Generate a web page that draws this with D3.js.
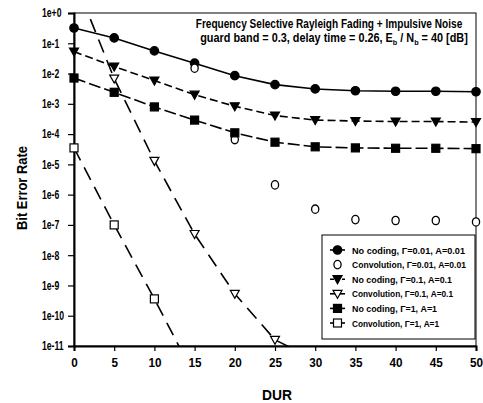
<!DOCTYPE html>
<html>
<head>
<meta charset="utf-8">
<script src="https://cdn.jsdelivr.net/npm/d3@7"></script>
<style>
  body { margin: 0; background: #fff; }
  svg { font-family: "Liberation Sans", Arial, sans-serif; }
</style>
</head>
<body>
<svg id="chart" width="483" height="403"></svg>
<script>
// values
const dur = [0, 5, 10, 15, 20, 25, 30, 35, 40, 45, 50];
const noCoding001 = [0.32, 0.15, 0.056, 0.022, 0.0085, 0.0043, 0.0031, 0.0027, 0.0026, 0.0026, 0.0025];
const conv001 = [null, null, null, 0.015, 6.6e-5, 2.1e-6, 3.3e-7, 1.5e-7, 1.4e-7, 1.4e-7, 1.25e-7];
const noCoding01 = [0.053, 0.017, 0.0059, 0.002, 8.3e-4, 4.1e-4, 2.9e-4, 2.7e-4, 2.6e-4, 2.6e-4, 2.5e-4];
const conv01 = [14, 0.0068, 1.3e-5, 5e-8, 5.3e-10, 1.6e-11, 3.5e-12, null, null, null, null];
const noCoding1 = [0.0071, 0.0024, 7.9e-4, 2.9e-4, 1.1e-4, 5.4e-5, 3.8e-5, 3.5e-5, 3.4e-5, 3.4e-5, 3.3e-5];
const conv1 = [3.5e-5, 1e-7, 3.6e-10, 1e-12, null, null, null, null, null, null, null];

const xTicks = [0, 5, 10, 15, 20, 25, 30, 35, 40, 45, 50];
const yTicks = [1, 1e-1, 1e-2, 1e-3, 1e-4, 1e-5, 1e-6, 1e-7, 1e-8, 1e-9, 1e-10, 1e-11];
const yTickLabels = ["1e+0", "1e-1", "1e-2", "1e-3", "1e-4", "1e-5", "1e-6", "1e-7", "1e-8", "1e-9", "1e-10", "1e-11"];

const series = [
  { name: "No coding, \u0393=0.01, A=0.01", values: noCoding001, marker: "circle", filled: true, dash: null, line: true, w: 113 },
  { name: "Convolution, \u0393=0.01, A=0.01", values: conv001, marker: "circle", filled: false, dash: null, line: false, w: 114 },
  { name: "No coding, \u0393=0.1, A=0.1", values: noCoding01, marker: "triangle", filled: true, dash: "8,4", line: true, w: 100 },
  { name: "Convolution, \u0393=0.1, A=0.1", values: conv01, marker: "triangle", filled: false, dash: "14,8", line: true, w: 101 },
  { name: "No coding, \u0393=1, A=1", values: noCoding1, marker: "square", filled: true, dash: "12,4", line: true, w: 85 },
  { name: "Convolution, \u0393=1, A=1", values: conv1, marker: "square", filled: false, dash: "14,8", line: true, w: 87 }
];

const svg = d3.select("#chart");
const pLeft = 74, pRight = 476, pTop = 13, pBottom = 346;

const x = d3.scaleLinear().domain([0, 50]).range([pLeft, pRight]);
const y = d3.scaleLog().domain([1e-11, 1]).range([pBottom, pTop]);

// the original uses a narrow face; squeeze the installed one to match
function squeeze(sel, k) {
  sel.each(function () {
    const n = this.getComputedTextLength();
    d3.select(this).attr("textLength", n * k).attr("lengthAdjust", "spacingAndGlyphs");
  });
}
function fitWidth(sel, w) {
  sel.attr("textLength", w).attr("lengthAdjust", "spacingAndGlyphs");
}

svg.append("defs").append("clipPath").attr("id", "plotClip")
  .append("rect")
  .attr("x", pLeft).attr("y", pTop)
  .attr("width", pRight - pLeft).attr("height", pBottom - pTop);

// frame
svg.append("rect")
  .attr("x", pLeft).attr("y", pTop)
  .attr("width", pRight - pLeft).attr("height", pBottom - pTop)
  .attr("fill", "none").attr("stroke", "#000").attr("stroke-width", 1);

// axes
const xAxis = svg.append("g")
  .attr("transform", `translate(0,${pBottom})`)
  .call(d3.axisBottom(x).tickValues(xTicks).tickSize(5).tickPadding(7).tickFormat(d3.format("d")));
const yAxis = svg.append("g")
  .attr("transform", `translate(${pLeft},0)`)
  .call(d3.axisLeft(y).tickValues(yTicks).tickSize(6).tickFormat((d, i) => yTickLabels[i]));

[xAxis, yAxis].forEach(a => {
  a.select(".domain").attr("stroke-width", 2);
  a.selectAll(".tick line").attr("stroke-width", 1.2);
  a.selectAll("text").attr("font-weight", "bold").attr("fill", "#000");
});
xAxis.selectAll("text").attr("font-size", 13);
squeeze(xAxis.selectAll("text"), 0.9);
yAxis.selectAll("text").attr("font-size", 12).attr("text-anchor", "start").attr("x", 42 - pLeft);
squeeze(yAxis.selectAll("text"), 0.72);

// axis titles
const xTitle = svg.append("text")
  .attr("x", (pLeft + pRight) / 2 + 2).attr("y", 400)
  .attr("text-anchor", "middle")
  .attr("font-size", 14).attr("font-weight", "bold")
  .text("DUR");
fitWidth(xTitle, 30);
const yTitle = svg.append("text")
  .attr("transform", `translate(27,188) rotate(-90)`)
  .attr("text-anchor", "middle")
  .attr("font-size", 14).attr("font-weight", "bold")
  .text("Bit Error Rate");
fitWidth(yTitle, 84);

// plot title inside the frame, squeezed with a horizontal scale
function titleLine(cx, cy, width, build) {
  const g = svg.append("g");
  const t = g.append("text").attr("x", 0).attr("y", 0)
    .attr("text-anchor", "middle").attr("font-size", 12).attr("font-weight", "bold");
  build(t);
  const k = width / t.node().getBBox().width;
  g.attr("transform", `translate(${cx},${cy}) scale(${k},1)`);
}
titleLine(329, 28, 267, t => t.text("Frequency Selective Rayleigh Fading + Impulsive Noise"));
titleLine(334, 42, 268, t => {
  t.append("tspan").text("guard band = 0.3, delay time = 0.26, E");
  t.append("tspan").attr("font-size", 8).attr("dy", 3).text("b");
  t.append("tspan").attr("dy", -3).text(" / N");
  t.append("tspan").attr("font-size", 8).attr("dy", 3).text("b");
  t.append("tspan").attr("dy", -3).text(" = 40 [dB]");
});

function drawMarker(g, s, cx, cy) {
  const fill = s.filled ? "#000" : "#fff";
  if (s.marker === "circle") {
    g.append("ellipse").attr("cx", cx).attr("cy", cy)
      .attr("rx", s.filled ? 4.2 : 3.6).attr("ry", 4.2)
      .attr("fill", fill).attr("stroke", "#000").attr("stroke-width", 1.3);
  } else if (s.marker === "triangle") {
    g.append("path")
      .attr("d", `M${cx - 4.5},${cy - 3.5}L${cx + 4.5},${cy - 3.5}L${cx},${cy + 4.5}Z`)
      .attr("fill", fill).attr("stroke", "#000").attr("stroke-width", 1.2);
  } else {
    g.append("rect").attr("x", cx - 4).attr("y", cy - 4).attr("width", 8).attr("height", 8)
      .attr("fill", fill).attr("stroke", "#000").attr("stroke-width", 1.2);
  }
}

const plot = svg.append("g").attr("clip-path", "url(#plotClip)");
const line = d3.line()
  .defined(d => d.v != null)
  .x(d => x(d.x))
  .y(d => y(d.v));

series.forEach(s => {
  const pts = dur.map((d, i) => ({ x: d, v: s.values[i] }));
  if (s.line) {
    plot.append("path")
      .datum(pts)
      .attr("d", line)
      .attr("fill", "none")
      .attr("stroke", "#000")
      .attr("stroke-width", 1.6)
      .attr("stroke-dasharray", s.dash);
  }
});
series.forEach(s => {
  dur.forEach((d, i) => {
    const v = s.values[i];
    if (v == null || v > 1 || v < 1e-11) return;
    drawMarker(svg, s, x(d), y(v));
  });
});

// legend
const legend = svg.append("g");
legend.append("rect")
  .attr("x", 322).attr("y", 235).attr("width", 153).attr("height", 104)
  .attr("fill", "#fff").attr("stroke", "#000").attr("stroke-width", 1);
series.forEach((s, i) => {
  const ly = 250 + i * 14.6;
  if (s.line) {
    legend.append("line")
      .attr("x1", 330).attr("x2", 345).attr("y1", ly).attr("y2", ly)
      .attr("stroke", "#000").attr("stroke-width", 1.6)
      .attr("stroke-dasharray", s.dash === "8,4" ? "4,2" : null);
  }
  drawMarker(legend, s, 337.5, ly);
  const t = legend.append("text")
    .attr("x", 352).attr("y", ly + 3.5)
    .attr("font-size", 9).attr("font-weight", "bold")
    .text(s.name);
  fitWidth(t, s.w);
});
</script>
</body>
</html>
